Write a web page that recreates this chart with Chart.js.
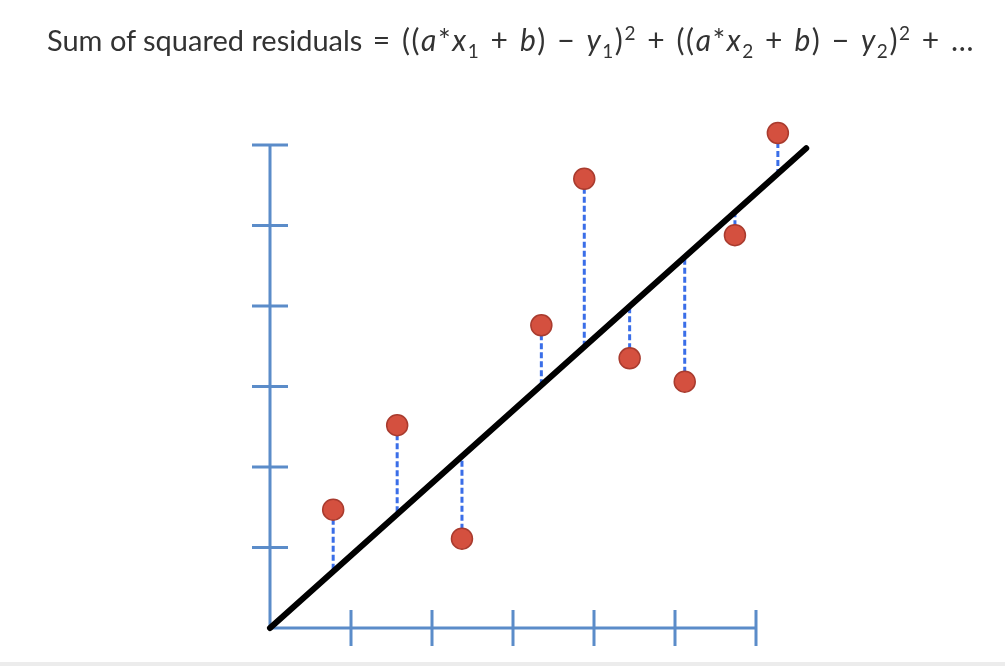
<!DOCTYPE html>
<html>
<head>
<meta charset="utf-8">
<script src="https://cdn.jsdelivr.net/npm/chart.js@4"></script>
<style>
    html, body { margin: 0; padding: 0; background: #fff; }
    #wrap { position: relative; width: 1005px; height: 666px; overflow: hidden; }
    #chart { position: absolute; left: 0; top: 0; }
    #title {
        position: absolute; left: 47px; top: 21px;
        font-family: Lato, "Open Sans", sans-serif; font-size: 29px; color: #333;
        white-space: nowrap;
    }
    #title i { font-style: italic; }
    #title sub, #title sup { font-size: 19px; line-height: 0; }
    #formula { font-size: 30px; letter-spacing: 1.5px; }
    #bottomBand { position: absolute; left: 0; top: 662px; width: 1005px; height: 4px; background: #ececec; }
</style>
</head>
<body>
<div id="wrap">
    <canvas id="chart" width="1005" height="666"></canvas>
    <div id="title"><span>Sum of squared residuals</span><span id="formula"> = ((<i>a</i>*<i>x</i><sub>1</sub> + <i>b</i>) − <i>y</i><sub>1</sub>)<sup>2</sup> + ((<i>a</i>*<i>x</i><sub>2</sub> + <i>b</i>) − <i>y</i><sub>2</sub>)<sup>2</sup> + …</span></div>
    <div id="bottomBand"></div>
</div>
<script>
// Data (axis units: one tick = 1)
const xValues = [0.78, 1.57, 2.37, 3.35, 3.88, 4.44, 5.12, 5.74, 6.27];
const yValues = [1.47, 2.52, 1.11, 3.76, 5.58, 3.35, 3.06, 4.88, 6.15];
// where each residual meets the fitted line
const fittedValues = [0.70, 1.41, 2.13, 3.02, 3.49, 4.00, 4.61, 5.17, 5.64];
// fitted line end points
const lineX = [0, 6.62];
const lineY = [0, 5.96];
// axis ticks
const xTicks = [1, 2, 3, 4, 5, 6];
const yTicks = [1, 2, 3, 4, 5, 6];

const axisColor = '#5b8cc9';

// the formula part is set wider in the slide, so spread its spaces a bit
const titleEl = document.getElementById('title');
const formulaEl = document.getElementById('formula');
const gaps = formulaEl.textContent.split(' ').length - 1;
formulaEl.style.wordSpacing = ((928 - titleEl.offsetWidth) / gaps) + 'px';

// draws the blue axes with crossing tick marks
const crossAxesPlugin = {
    id: 'crossAxes',
    beforeDatasetsDraw(chart) {
        const { ctx, scales: { x, y } } = chart;
        const x0 = x.getPixelForValue(0);
        const y0 = y.getPixelForValue(0);
        const half = 18;
        ctx.save();
        ctx.strokeStyle = axisColor;
        ctx.lineWidth = 3;
        ctx.beginPath();
        ctx.moveTo(x0, y.getPixelForValue(yTicks[yTicks.length - 1]));
        ctx.lineTo(x0, y0);
        ctx.lineTo(x.getPixelForValue(xTicks[xTicks.length - 1]), y0);
        yTicks.forEach(t => {
            const py = y.getPixelForValue(t);
            ctx.moveTo(x0 - half, py);
            ctx.lineTo(x0 + half, py);
        });
        xTicks.forEach(t => {
            const px = x.getPixelForValue(t);
            ctx.moveTo(px, y0 - half);
            ctx.lineTo(px, y0 + half);
        });
        ctx.stroke();
        ctx.restore();
    }
};

const residualSets = xValues.map((xv, i) => ({
    type: 'line',
    data: [{ x: xv, y: yValues[i] }, { x: xv, y: fittedValues[i] }],
    borderColor: '#3a6ee8',
    borderWidth: 3,
    borderDash: [6, 3],
    pointRadius: 0,
    order: 3
}));

new Chart(document.getElementById('chart'), {
    type: 'scatter',
    data: {
        datasets: [
            {
                label: 'points',
                data: xValues.map((xv, i) => ({ x: xv, y: yValues[i] })),
                backgroundColor: '#d4503f',
                borderColor: '#a93b2e',
                borderWidth: 1.5,
                pointRadius: 10.5,
                order: 1
            },
            {
                type: 'line',
                label: 'fit',
                data: lineX.map((xv, i) => ({ x: xv, y: lineY[i] })),
                borderColor: '#000',
                borderWidth: 6,
                borderCapStyle: 'round',
                pointRadius: 0,
                order: 2
            },
            ...residualSets
        ]
    },
    options: {
        responsive: false,
        animation: false,
        clip: false,
        layout: { autoPadding: false, padding: { left: 189, right: 6, top: 64.5, bottom: 5.8 } },
        scales: {
            x: { type: 'linear', min: -1, max: 9, display: false },
            y: { type: 'linear', min: -0.4, max: 7, display: false }
        },
        plugins: {
            legend: { display: false },
            tooltip: { enabled: false }
        }
    },
    plugins: [crossAxesPlugin]
});
</script>
</body>
</html>
